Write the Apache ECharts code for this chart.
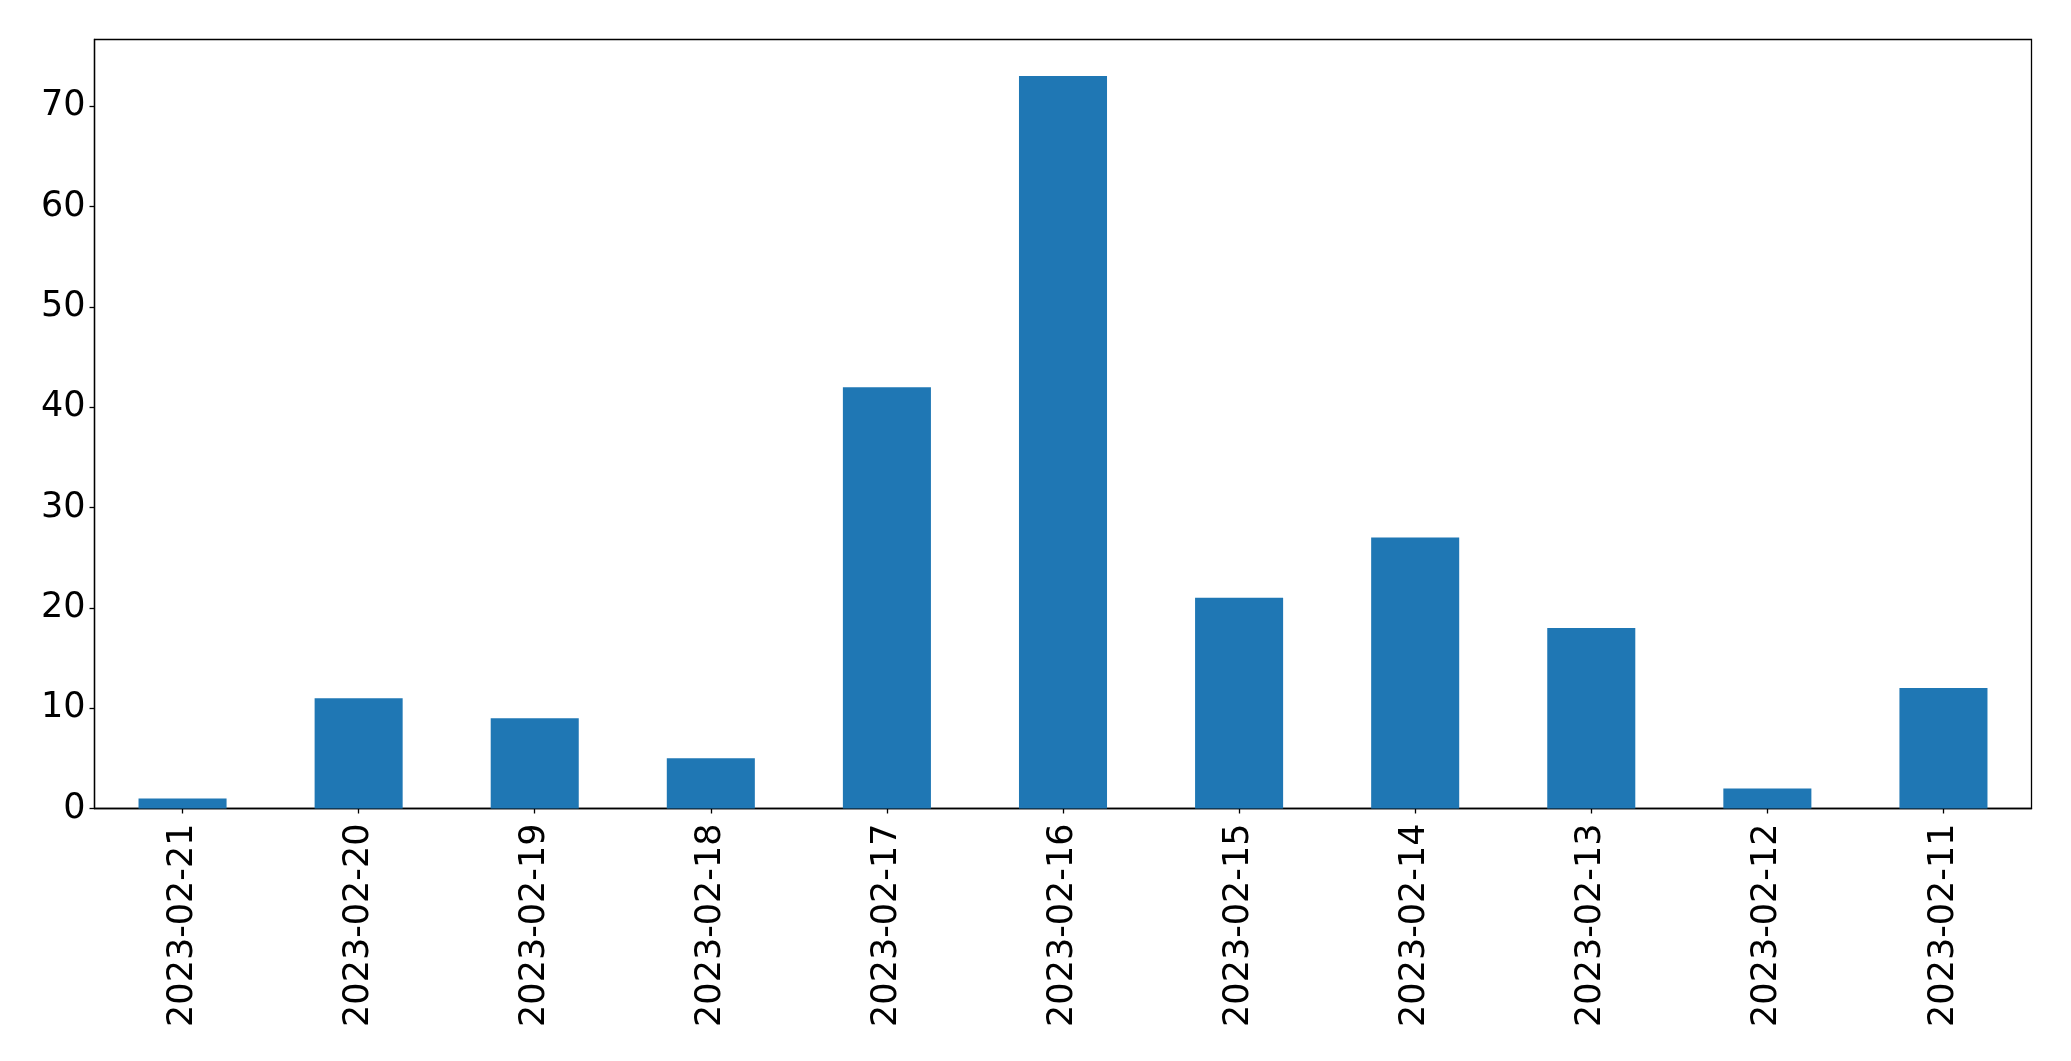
<!DOCTYPE html>
<html>
<head>
<meta charset="utf-8">
<script src="https://cdn.jsdelivr.net/npm/echarts@6/dist/echarts.min.js"></script>
<style>
html,body{margin:0;padding:0;background:#fff;}
#chart{width:2071px;height:1061px;}
</style>
</head>
<body>
<div id="chart"></div>
<script>
const categories = ['2023-02-21','2023-02-20','2023-02-19','2023-02-18','2023-02-17','2023-02-16','2023-02-15','2023-02-14','2023-02-13','2023-02-12','2023-02-11'];
const counts = [1, 11, 9, 5, 42, 73, 21, 27, 18, 2, 12];
const yTicks = [0, 10, 20, 30, 40, 50, 60, 70];
const yMax = 76.65;

const chart = echarts.init(document.getElementById('chart'), null, {renderer: 'canvas'});
const font = 'DejaVu Sans';
chart.setOption({
  animation: false,
  backgroundColor: '#ffffff',
  grid: {
    left: 94.5, right: 39.5, top: 39.5, bottom: 252.5,
    show: true, borderColor: '#000', borderWidth: 1.3, backgroundColor: 'transparent',
    containLabel: false
  },
  xAxis: {
    type: 'category',
    data: categories,
    boundaryGap: true,
    axisLine: {show: true, lineStyle: {color: '#000', width: 1.3}},
    axisTick: {show: true, alignWithLabel: true, length: 5, lineStyle: {color: '#000', width: 1.3}},
    axisLabel: {rotate: 90, margin: 15, color: '#000', fontFamily: font, fontSize: 35, interval: 0},
    splitLine: {show: false}
  },
  yAxis: {
    type: 'value',
    min: 0, max: yMax,
    axisLine: {show: true, lineStyle: {color: '#000', width: 1.3}},
    axisTick: {show: true, length: 5, lineStyle: {color: '#000', width: 1.3}, customValues: yTicks},
    axisLabel: {margin: 9, color: '#000', fontFamily: font, fontSize: 35, customValues: yTicks},
    splitLine: {show: false}
  },
  series: [{
    type: 'bar',
    data: counts,
    barWidth: '50%',
    itemStyle: {color: '#1f77b4'}
  }]
});
</script>
</body>
</html>
